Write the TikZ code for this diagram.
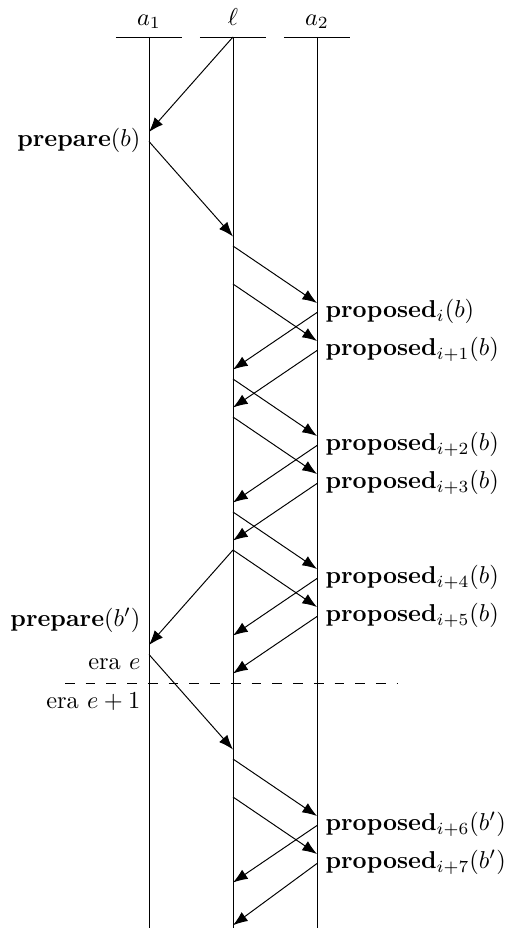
\documentclass[tikz,border=0pt]{standalone}
\usetikzlibrary{arrows.meta}

\tikzset{
  msg/.style={-{Latex[length=6pt,width=4.5pt]}},
  lab/.style={inner sep=3.33pt},
}

\begin{document}
\begin{tikzpicture}[x=1.2104cm,y=-0.1369cm]
  \useasboundingbox (-1.774,-3.895) rectangle (4.262,93.79);

  % ===== processes and lifelines =====
  \foreach \p/\x/\name in {a1/0/a_1, l/1/\ell, a2/2/a_2} {
    \coordinate (\p top) at (\x,0);
    \coordinate (\p bot) at (\x,93.8);
    \coordinate (\p barl) at (\x-0.393,0);
    \coordinate (\p barr) at (\x+0.393,0);
    \node[anchor=base] (\p name) at (\x,-1.26) {$\name$};
    \draw (\p barl) -- (\p barr);
    \draw (\p top) -- (\p bot);
  }

  % ===== messages: from column/time to column/time =====
  \foreach \s/\t/\e/\f [count=\k] in {
      1/0/0/10, 0/11/1/21,
      1/22/2/28, 1/26/2/32, 2/29/1/35, 2/33/1/39,
      1/36/2/42, 1/40/2/46, 2/43/1/49, 2/47/1/53,
      1/50/2/56, 1/54/2/60, 1/54/0/64, 2/57/1/63, 2/61/1/67,
      0/65/1/75,
      1/76/2/82, 1/80/2/86, 2/83/1/89, 2/87/1/93.5} {
    \coordinate (m\k s) at (\s,\t);
    \coordinate (m\k e) at (\e,\f);
    \draw[msg] (m\k s) -- (m\k e);
  }

  % ===== proposals at a2 =====
  \foreach \t/\sub/\blk [count=\k] in {
      29/i/b, 33/i+1/b, 43/i+2/b, 47/i+3/b,
      57/i+4/b, 61/i+5/b, 83/i+6/b', 87/i+7/b'} {
    \node[lab,anchor=mid west] (prop\k) at (2,\t)
      {\textbf{proposed}$_{\sub}(\blk)$};
  }

  % ===== prepare at a1 =====
  \node[lab,anchor=mid east] (prep1) at (0,11) {\textbf{prepare}$(b)$};
  \node[lab,anchor=base east] (prep2) at (0,62) {\textbf{prepare}$(b')$};

  % ===== era change =====
  \coordinate (eraL) at (-1.0,68);
  \coordinate (eraR) at (2.964,68);
  \draw[dash pattern=on 4pt off 4.5pt] (eraL) -- (eraR);
  \node[lab,anchor=base east] (era1) at (0,66.6) {era $e$};
  \node[lab,anchor=base east] (era2) at (0,70.7) {era $e+1$};
\end{tikzpicture}
\end{document}
